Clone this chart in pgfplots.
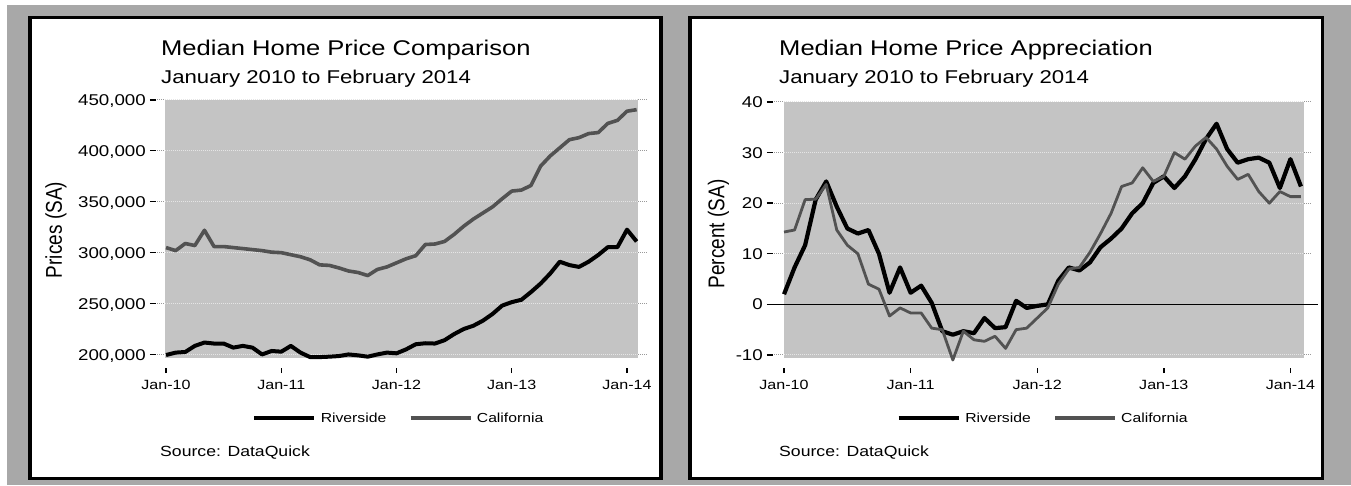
\documentclass[border=0pt]{standalone}
\usepackage{pgfplots}
\pgfplotsset{compat=1.18}
\usepackage{pgfplotstable}
\usepackage{graphicx}
\usepackage{fontspec}
\setmainfont{Liberation Sans}[FakeStretch=1.2]
\definecolor{outerbg}{gray}{0.66}
\definecolor{plotbg}{gray}{0.77}
\definecolor{calif}{gray}{0.32}
\definecolor{gridc}{gray}{0.90}
\definecolor{gridout}{gray}{0.6}

\pgfplotstableread{
m riv cal
0 199400 305000
1 201800 302000
2 202400 309000
3 208400 307000
4 211700 322000
5 210700 306000
6 210700 306000
7 206700 305000
8 208400 304000
9 206700 303000
10 200000 302000
11 203400 300500
12 202700 300000
13 208400 298000
14 201800 296000
15 197400 293000
16 197400 288000
17 197800 287500
18 198400 285000
19 200000 282000
20 199100 280500
21 197800 277500
22 200000 283500
23 201800 286000
24 201100 290000
25 205000 294000
26 210000 297000
27 211000 308000
28 210700 308500
29 214000 311000
30 220000 318000
31 225000 326000
32 228200 333000
33 233200 339000
34 239800 345000
35 248000 353000
36 251400 360500
37 253700 361500
38 261300 366000
39 269600 385000
40 279500 395000
41 291100 403000
42 287800 411000
43 286000 413000
44 291100 417000
45 297700 418000
46 305400 427000
47 305400 430000
48 322600 439000
49 311000 440500
}\prices

\pgfplotstableread{
m riv cal
0 2.0 14.3
1 7.3 14.7
2 11.7 20.7
3 20.7 20.8
4 24.3 23.7
5 19.3 14.7
6 15.0 11.7
7 14.0 10.0
8 14.7 4.0
9 10.0 3.0
10 2.3 -2.3
11 7.3 -0.7
12 2.3 -1.7
13 3.7 -1.7
14 0.3 -4.7
15 -5.3 -5.0
16 -6.0 -11.0
17 -5.3 -5.3
18 -5.7 -7.0
19 -2.7 -7.3
20 -4.7 -6.3
21 -4.5 -8.7
22 0.7 -5.0
23 -0.7 -4.7
24 -0.3 -2.7
25 0.0 -0.7
26 4.7 4.0
27 7.3 7.0
28 6.7 7.3
29 8.3 10.3
30 11.3 14.0
31 13.0 18.0
32 15.0 23.3
33 18.0 24.0
34 20.0 27.0
35 24.0 24.3
36 25.3 25.3
37 23.0 30.0
38 25.3 28.7
39 28.7 31.3
40 32.7 33.0
41 35.7 30.7
42 30.7 27.3
43 28.0 24.7
44 28.7 25.7
45 29.0 22.3
46 28.0 20.0
47 23.0 22.3
48 28.7 21.3
49 23.3 21.3
}\apprec

\newcommand\xtl[1]{\rule{1.4pt}{5pt}\\#1}
\tikzset{ylab/.style={anchor=east, inner sep=0pt, xshift=-1pt, text height=11.2pt, text depth=0pt,
      font=\fontsize{15.6pt}{18pt}\selectfont}}
\newcommand\ydash{\hspace{4pt}\rule[5pt]{6pt}{1.3pt}}

\pgfplotsset{
  panel/.style={
    scale only axis, enlargelimits=false, clip=false,
    axis line style={draw=none},
    major tick length=0pt,
    tick style={draw=none},
    ytick=\empty,
    xtick={0,12,24,36,48},
    xticklabels={{\xtl{Jan-10}},{\xtl{Jan-11}},{\xtl{Jan-12}},{\xtl{Jan-13}},{\xtl{Jan-14}}},
    xticklabel style={anchor=north, align=center, inner sep=0pt, yshift=-10pt,
      font=\fontsize{13.4pt}{16pt}\selectfont},
    legend columns=2,
    legend style={draw=none, fill=none, anchor=center, font=\fontsize{13.1pt}{15pt}\selectfont,
      nodes={inner sep=4.5pt},
      /tikz/every even column/.append style={column sep=18pt}},
    legend image code/.code={\draw[#1] (0pt,0pt) -- (60pt,0pt);},
  }
}

\begin{document}
\begin{tikzpicture}[x=1pt,y=1pt]
\fill[white] (0,0) rectangle (1351,485);
\fill[outerbg] (7,0) rectangle (1351,480);
\filldraw[fill=white, draw=black, line width=3.4pt] (30,467.5) rectangle (661,6.7);
\filldraw[fill=white, draw=black, line width=3.4pt] (690,467.5) rectangle (1322.3,6.7);

% ---------- left panel ----------
\begin{axis}[panel,
  at={(157pt,127pt)}, anchor=south west,
  width=490pt, height=258pt,
  xmin=-0.94, xmax=50.08, ymin=196500, ymax=450000,
  legend style={at={(0.496,-0.2326)}},
]
\fill[plotbg] (axis cs:-0.1,196500) rectangle (axis cs:49.15,450000);
\pgfplotsinvokeforeach{200000,250000,300000,350000,400000,450000}{
  \draw[gridout, densely dotted, line width=1pt] (axis cs:-0.94,#1) -- (axis cs:-0.1,#1);
  \draw[gridc, densely dotted, line width=1pt] (axis cs:-0.1,#1) -- (axis cs:49.15,#1);
  \draw[gridout, densely dotted, line width=1pt] (axis cs:49.15,#1) -- (axis cs:50.08,#1);
}
\node[ylab] at (axis cs:-0.94,200000) {200,000\ydash};
\node[ylab] at (axis cs:-0.94,250000) {250,000\ydash};
\node[ylab] at (axis cs:-0.94,300000) {300,000\ydash};
\node[ylab] at (axis cs:-0.94,350000) {350,000\ydash};
\node[ylab] at (axis cs:-0.94,400000) {400,000\ydash};
\node[ylab] at (axis cs:-0.94,450000) {450,000\ydash};
\addplot[black, line width=4pt, line join=round] table[x=m, y=riv] {\prices};
\addlegendentry{Riverside}
\addplot[calif, line width=3.6pt, line join=round] table[x=m, y=cal] {\prices};
\addlegendentry{California}
\end{axis}

% ---------- right panel ----------
\begin{axis}[panel,
  at={(774pt,127pt)}, anchor=south west,
  width=537.5pt, height=256pt,
  xmin=-0.95, xmax=50.0, ymin=-10.6, ymax=40,
  legend style={at={(0.503,-0.2344)}},
]
\fill[plotbg] (axis cs:0,-10.6) rectangle (axis cs:49.3,40);
\pgfplotsinvokeforeach{-10,10,20,30,40}{
  \draw[gridout, densely dotted, line width=1pt] (axis cs:-0.95,#1) -- (axis cs:0,#1);
  \draw[gridc, densely dotted, line width=1pt] (axis cs:0,#1) -- (axis cs:49.3,#1);
  \draw[gridout, densely dotted, line width=1pt] (axis cs:49.3,#1) -- (axis cs:50.0,#1);
}
\draw[black, line width=1.2pt] (axis cs:-1.6,0) -- (axis cs:50.6,0);
\node[ylab] at (axis cs:-0.95,-10) {-10\ydash};
\node[ylab] at (axis cs:-0.95,0) {0\ydash};
\node[ylab] at (axis cs:-0.95,10) {10\ydash};
\node[ylab] at (axis cs:-0.95,20) {20\ydash};
\node[ylab] at (axis cs:-0.95,30) {30\ydash};
\node[ylab] at (axis cs:-0.95,40) {40\ydash};
\addplot[black, line width=4.2pt, line join=round] table[x=m, y=riv] {\apprec};
\addlegendentry{Riverside}
\addplot[calif, line width=2.8pt, line join=round, forget plot] table[x=m, y=cal] {\apprec};
\addlegendimage{calif, line width=3.4pt}
\addlegendentry{California}
\end{axis}

% ---------- texts ----------
\node[anchor=base west, inner sep=0pt, font=\fontsize{21.3pt}{25pt}\selectfont] at (161,429.6) {Median Home Price Comparison};
\node[anchor=base west, inner sep=0pt, font=\fontsize{18.5pt}{22pt}\selectfont] at (161,401.4) {January 2010 to February 2014};
\node[anchor=base west, inner sep=0pt, font=\fontsize{14.7pt}{18pt}\selectfont] at (160,28.5) {Source: DataQuick};
\node[rotate=90, inner sep=0pt] at (56,255) {\scalebox{1}[1.2]{\fontsize{19pt}{22pt}\fontspec{Liberation Sans}Prices (SA)}};

\node[anchor=base west, inner sep=0pt, font=\fontsize{21.3pt}{25pt}\selectfont] at (779,429.6) {Median Home Price Appreciation};
\node[anchor=base west, inner sep=0pt, font=\fontsize{18.5pt}{22pt}\selectfont] at (779,401.4) {January 2010 to February 2014};
\node[anchor=base west, inner sep=0pt, font=\fontsize{14.7pt}{18pt}\selectfont] at (779,28.5) {Source: DataQuick};
\node[rotate=90, inner sep=0pt] at (718.5,251) {\scalebox{1}[1.2]{\fontsize{19pt}{22pt}\fontspec{Liberation Sans}Percent (SA)}};

\pgfresetboundingbox
\useasboundingbox (0,0) rectangle (1351,485);
\end{tikzpicture}
\end{document}
